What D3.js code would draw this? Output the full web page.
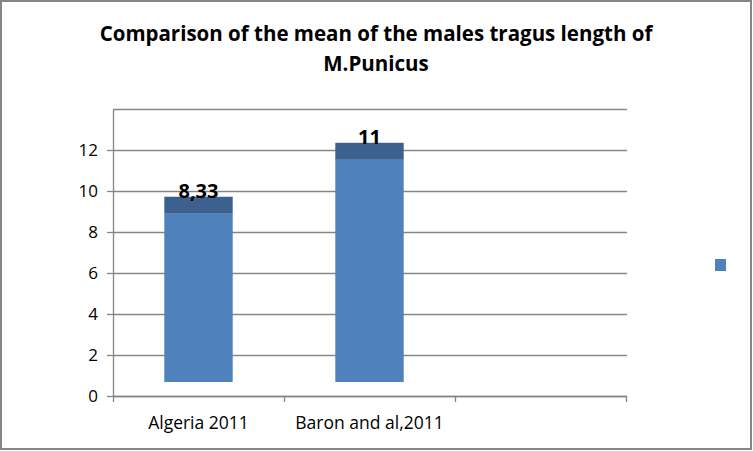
<!DOCTYPE html>
<html>
<head>
<meta charset="utf-8">
<script src="https://cdn.jsdelivr.net/npm/d3@7"></script>
<style>
  body { margin: 0; background: #fff; }
  text { font-family: "Open Sans", sans-serif; }
</style>
</head>
<body>
<div id="chart"></div>
<script>
// values as labelled on the chart
var categories = ["Algeria 2011", "Baron and al,2011", ""];
var means = [8.33, 11];
var valueLabels = ["8,33", "11"];
var yTicks = [0, 2, 4, 6, 8, 10, 12];
var gridValues = [0, 2, 4, 6, 8, 10, 12, 14];

var W = 753, H = 451;

var svg = d3.select("#chart").append("svg")
  .attr("width", W)
  .attr("height", H);

// outer frame
svg.append("rect")
  .attr("x", 1).attr("y", 1)
  .attr("width", W - 3).attr("height", H - 3)
  .attr("fill", "#fff")
  .attr("stroke", "#868686")
  .attr("stroke-width", 2);

// title
var title = svg.append("text")
  .attr("text-anchor", "middle")
  .attr("font-weight", "bold")
  .attr("font-size", "20.5px")
  .attr("fill", "#000");
title.append("tspan").attr("x", 376).attr("y", 41)
  .text("Comparison of the mean of the males tragus length of");
title.append("tspan").attr("x", 376).attr("y", 71)
  .text("M.Punicus");

var plotLeft = 113, plotRight = 626, plotTop = 109, plotBottom = 396;

var x = d3.scaleBand()
  .domain(categories)
  .range([plotLeft, plotRight])
  .paddingInner(0.6)
  .paddingOuter(0.3);

var y = d3.scaleLinear()
  .domain([0, 14])
  .range([plotBottom, plotTop]);

// bars sit a little above the axis floor (3D look), slightly flatter scale
var depth = 14;
var yFront = d3.scaleLinear()
  .domain([0, 14])
  .range([plotBottom - depth, plotBottom - depth - 14 * 20.2]);
var capH = 17;

// gridlines
svg.append("g").selectAll("line")
  .data(gridValues)
  .enter()
  .append("line")
  .attr("x1", plotLeft).attr("x2", plotRight + 1)
  .attr("y1", function(d) { return Math.round(y(d)) + 0.5; })
  .attr("y2", function(d) { return Math.round(y(d)) + 0.5; })
  .attr("stroke", "#868686")
  .attr("stroke-width", 1.3);

// y axis
var yAxis = svg.append("g")
  .attr("transform", "translate(" + plotLeft + ",0)")
  .call(d3.axisLeft(y).tickValues(yTicks).tickSize(6).tickPadding(9).tickSizeOuter(0));
yAxis.select(".domain").attr("stroke", "#868686").attr("stroke-width", 1.3);
yAxis.selectAll(".tick line").attr("stroke", "#868686").attr("stroke-width", 1.3);
yAxis.selectAll(".tick text")
  .attr("font-size", "17px")
  .attr("font-family", "Open Sans, sans-serif")
  .attr("fill", "#000");

// x axis: labels at centres, ticks at category borders
var xAxis = svg.append("g")
  .attr("transform", "translate(0," + plotBottom + ")")
  .call(d3.axisBottom(x).tickSize(0).tickPadding(21));
xAxis.select(".domain").remove();
xAxis.selectAll(".tick text")
  .attr("font-size", "17.5px")
  .attr("font-family", "Open Sans, sans-serif")
  .attr("fill", "#000");

svg.append("line")
  .attr("x1", plotLeft).attr("x2", plotRight + 1)
  .attr("y1", plotBottom + 0.5).attr("y2", plotBottom + 0.5)
  .attr("stroke", "#868686").attr("stroke-width", 1.3);

var half = (x.step() - x.bandwidth()) / 2;
var borders = categories.map(function(c) { return x(c) - half; });
borders.push(x(categories[categories.length - 1]) + x.bandwidth() + half);
svg.append("g").selectAll("line")
  .data(borders)
  .enter()
  .append("line")
  .attr("x1", function(d) { return Math.round(d) + 0.5; })
  .attr("x2", function(d) { return Math.round(d) + 0.5; })
  .attr("y1", plotBottom).attr("y2", plotBottom + 6)
  .attr("stroke", "#868686").attr("stroke-width", 1.3);

// bars: front face + darker top
var bars = svg.append("g").selectAll("g")
  .data(means)
  .enter()
  .append("g");

bars.append("rect")
  .attr("x", function(d, i) { return x(categories[i]); })
  .attr("width", x.bandwidth())
  .attr("y", function(d) { return yFront(d); })
  .attr("height", function(d) { return yFront(0) - yFront(d); })
  .attr("fill", "#4f81bd");

bars.append("rect")
  .attr("x", function(d, i) { return x(categories[i]); })
  .attr("width", x.bandwidth())
  .attr("y", function(d) { return yFront(d) - capH; })
  .attr("height", capH)
  .attr("fill", "#3c618f");

bars.append("text")
  .attr("x", function(d, i) { return x(categories[i]) + x.bandwidth() / 2; })
  .attr("y", function(d) { return yFront(d) - capH + 1; })
  .attr("text-anchor", "middle")
  .attr("font-weight", "bold")
  .attr("font-size", "20px")
  .attr("fill", "#000")
  .text(function(d, i) { return valueLabels[i]; });

// legend marker (no text in the original)
svg.append("rect")
  .attr("x", 715).attr("y", 259)
  .attr("width", 11).attr("height", 12)
  .attr("fill", "#4f81bd");
</script>
</body>
</html>
